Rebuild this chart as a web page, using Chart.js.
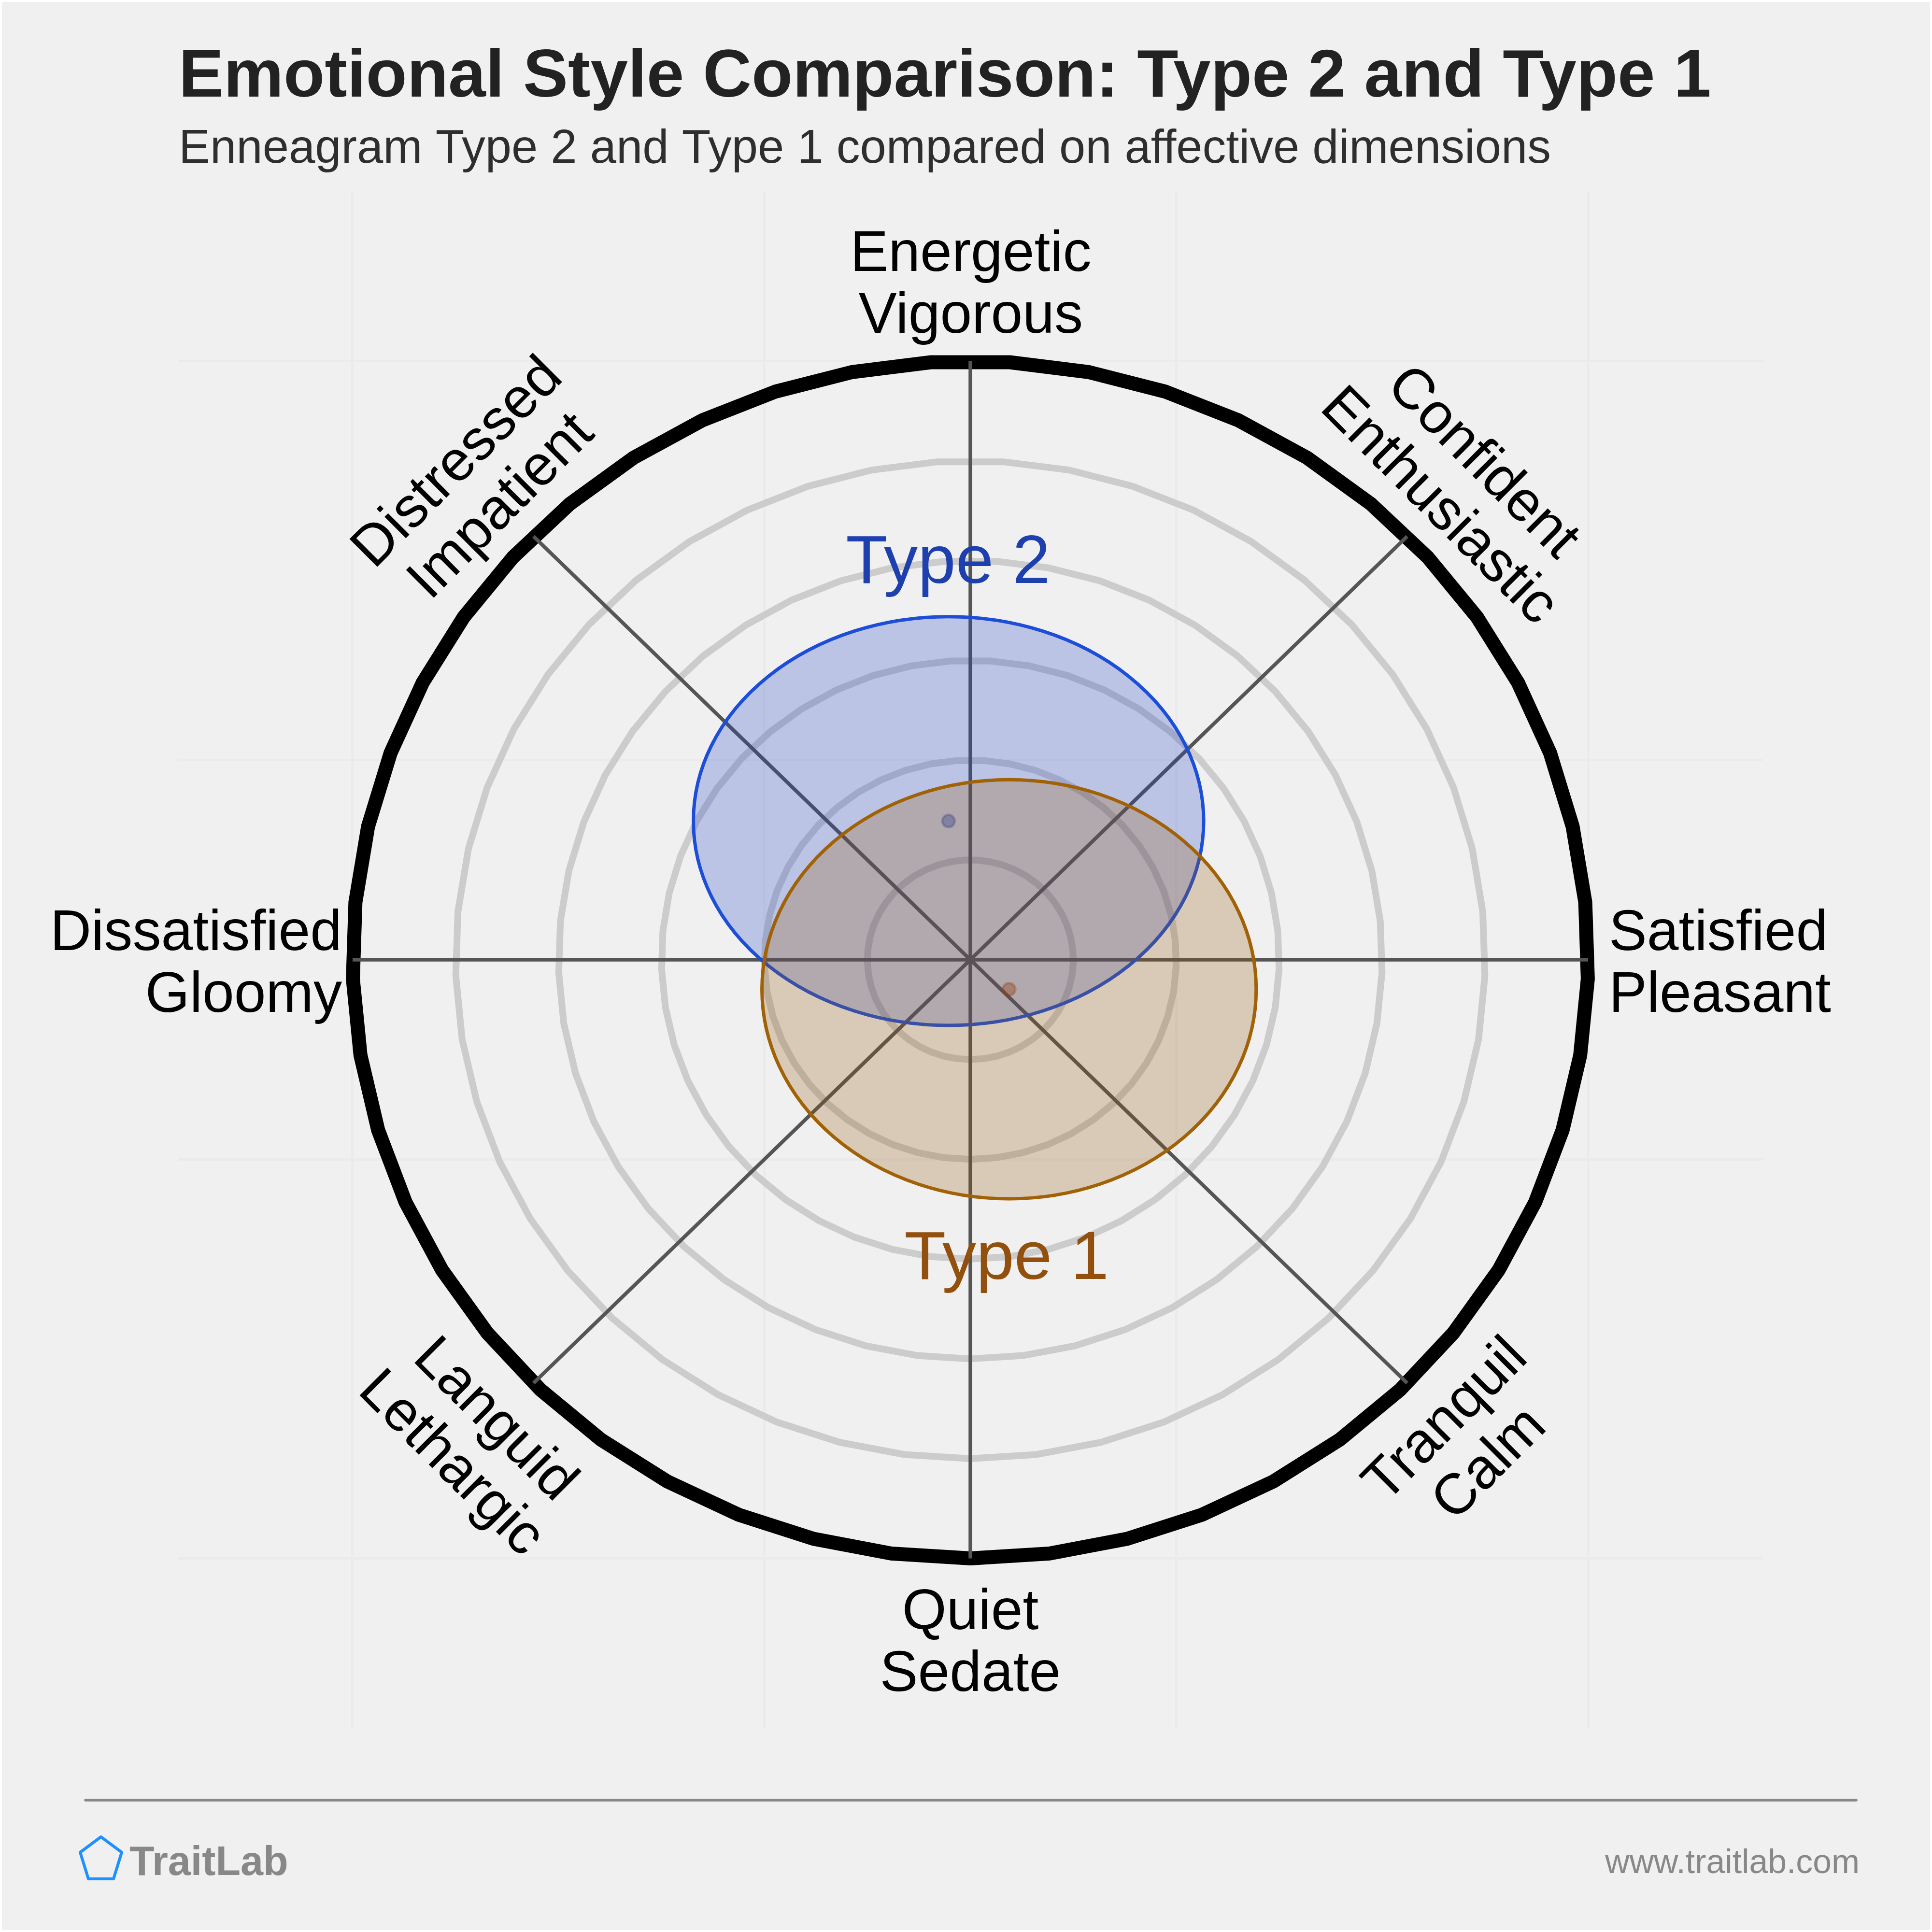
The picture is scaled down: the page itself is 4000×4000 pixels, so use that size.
<!DOCTYPE html>
<html>
<head>
<meta charset="utf-8">
<title>Emotional Style Comparison</title>
<script src="https://cdn.jsdelivr.net/npm/chart.js@4/dist/chart.umd.min.js"></script>
<style>
    html, body { margin: 0; padding: 0; background: #ffffff; }
    canvas { display: block; }
</style>
</head>
<body>
<canvas id="emotionChart" width="4000" height="4000"></canvas>
<script>
// Chart values
const typeNames = ['Type 2', 'Type 1'];
const centerX = [-0.106, 0.188];
const centerY = [0.695, -0.148];
const spreadX = [1.239, 1.2];
const spreadY = [1.024, 1.05];

const ringRadii = [0.5, 1, 1.5, 2, 2.5, 3];
const gridTicks = [-3, -1, 1, 3];
const spokeEndX = [0, 3, 3, 3, 0, -3, -3, -3];
const spokeEndY = [3, 3, 0, -3, -3, -3, 0, 3];
const diagonalShare = 0.7071;

const axisLabels = [
    ['Energetic', 'Vigorous'],
    ['Confident', 'Enthusiastic'],
    ['Satisfied', 'Pleasant'],
    ['Tranquil', 'Calm'],
    ['Quiet', 'Sedate'],
    ['Languid', 'Lethargic'],
    ['Dissatisfied', 'Gloomy'],
    ['Distressed', 'Impatient']
];

const titleText = 'Emotional Style Comparison: Type 2 and Type 1';
const subtitleText = 'Enneagram Type 2 and Type 1 compared on affective dimensions';

// Styling
const FONT = '"Liberation Sans", Arial, sans-serif';
const typeStroke = ['#1d4ed8', '#a16207'];
const typeFill = ['rgba(30, 64, 200, 0.25)', 'rgba(146, 88, 10, 0.25)'];
const typeDot = ['rgba(30, 64, 175, 0.4)', 'rgba(146, 64, 14, 0.4)'];
const typeDotEdge = ['rgba(30, 64, 175, 0.3)', 'rgba(146, 64, 14, 0.3)'];
const typeText = ['#1e40af', '#92500e'];
const typeLabelPos = [[1963, 1207], [2084, 2648]];

// x, y, rotation in degrees, alignment for every axis label
const labelPlacement = [
    [2010, 625, 0, 'center'],
    [3000, 1027, 45, 'center'],
    [3331, 2031, 0, 'left'],
    [3063, 3010, -45, 'center'],
    [2009, 3437, 0, 'center'],
    [955, 3009, 45, 'center'],
    [708, 2031, 0, 'right'],
    [1017, 1028, -45, 'center']
];

function spokePoints(i) {
    var share = (spokeEndX[i] !== 0 && spokeEndY[i] !== 0) ? diagonalShare : 1;
    return [{ x: 0, y: 0 }, { x: spokeEndX[i] * share, y: spokeEndY[i] * share }];
}

var datasets = [];
spokeEndX.forEach(function (v, i) {
    datasets.push({
        label: 'Spoke ' + (i + 1),
        data: spokePoints(i),
        showLine: true,
        borderColor: '#555555',
        borderWidth: 7.5,
        pointRadius: 0,
        order: 10
    });
});
typeNames.forEach(function (name, i) {
    datasets.push({
        label: name,
        typeIndex: i,
        data: [{ x: centerX[i], y: centerY[i] }],
        showLine: false,
        pointRadius: 13,
        pointBorderWidth: 5,
        backgroundColor: typeDot[i],
        pointBackgroundColor: typeDot[i],
        pointBorderColor: typeDotEdge[i],
        order: 5 - i
    });
});

const backgroundPlugin = {
    id: 'pageBackground',
    beforeDraw: function (chart) {
        var ctx = chart.ctx;
        ctx.save();
        ctx.fillStyle = '#ffffff';
        ctx.fillRect(0, 0, 4000, 4000);
        ctx.fillStyle = '#f0f0f0';
        ctx.fillRect(4, 4, 3992, 3992);
        ctx.restore();
    }
};

// Rings sit under the spokes, 49 sided like the reference
const ringsPlugin = {
    id: 'rings',
    beforeDatasetsDraw: function (chart) {
        var ctx = chart.ctx;
        var xs = chart.scales.x;
        var ys = chart.scales.y;
        ctx.save();
        ringRadii.forEach(function (r, i) {
            var last = i === ringRadii.length - 1;
            ctx.beginPath();
            for (var k = 0; k < 49; k++) {
                var a = Math.PI * 2 * k / 49;
                var px = xs.getPixelForValue(r * Math.sin(a));
                var py = ys.getPixelForValue(-r * Math.cos(a));
                if (k === 0) ctx.moveTo(px, py); else ctx.lineTo(px, py);
            }
            ctx.closePath();
            ctx.lineJoin = 'miter';
            ctx.strokeStyle = last ? '#000000' : '#cccccc';
            ctx.lineWidth = last ? 29 : 14;
            ctx.stroke();
        });
        ctx.restore();
    }
};

// Each type's ellipse goes in just before its centre dot
const ellipsePlugin = {
    id: 'typeEllipses',
    beforeDatasetDraw: function (chart, args) {
        var i = chart.data.datasets[args.index].typeIndex;
        if (i === undefined) return;
        var ctx = chart.ctx;
        var xs = chart.scales.x;
        var ys = chart.scales.y;
        var cx = xs.getPixelForValue(centerX[i]);
        var cy = ys.getPixelForValue(centerY[i]);
        var rx = Math.abs(xs.getPixelForValue(centerX[i] + spreadX[i]) - cx);
        var ry = Math.abs(ys.getPixelForValue(centerY[i] + spreadY[i]) - cy);
        ctx.save();
        ctx.beginPath();
        ctx.ellipse(cx, cy, rx, ry, 0, 0, Math.PI * 2);
        ctx.fillStyle = typeFill[i];
        ctx.fill();
        ctx.strokeStyle = typeStroke[i];
        ctx.lineWidth = 7;
        ctx.stroke();
        ctx.restore();
    }
};

const textPlugin = {
    id: 'pageText',
    afterDraw: function (chart) {
        var ctx = chart.ctx;
        ctx.save();
        ctx.textBaseline = 'alphabetic';

        ctx.textAlign = 'left';
        ctx.fillStyle = '#222222';
        ctx.font = 'bold 139.5px ' + FONT;
        ctx.fillText(titleText, 370, 200);
        ctx.fillStyle = '#2e2e2e';
        ctx.font = '97.6px ' + FONT;
        ctx.fillText(subtitleText, 370, 337);

        // two line axis labels around their middle point
        ctx.fillStyle = '#000000';
        ctx.font = '118.2px ' + FONT;
        axisLabels.forEach(function (lines, i) {
            var p = labelPlacement[i];
            ctx.save();
            ctx.translate(p[0], p[1]);
            ctx.rotate(p[2] * Math.PI / 180);
            ctx.textAlign = p[3];
            ctx.fillText(lines[0], 0, -64);
            ctx.fillText(lines[1], 0, 64);
            ctx.restore();
        });

        ctx.textAlign = 'center';
        ctx.font = '141px ' + FONT;
        typeNames.forEach(function (name, i) {
            ctx.fillStyle = typeText[i];
            ctx.fillText(name, typeLabelPos[i][0], typeLabelPos[i][1]);
        });

        // footer
        ctx.strokeStyle = '#888888';
        ctx.lineWidth = 5.5;
        ctx.lineCap = 'round';
        ctx.beginPath();
        ctx.moveTo(177, 3727);
        ctx.lineTo(3843, 3727);
        ctx.stroke();

        ctx.strokeStyle = '#1e90ff';
        ctx.lineWidth = 6;
        ctx.lineJoin = 'round';
        ctx.beginPath();
        ctx.moveTo(209, 3803);
        ctx.lineTo(252, 3835);
        ctx.lineTo(235, 3890);
        ctx.lineTo(183, 3890);
        ctx.lineTo(166, 3835);
        ctx.closePath();
        ctx.stroke();

        ctx.fillStyle = '#888888';
        ctx.textAlign = 'left';
        ctx.font = 'bold 84.5px ' + FONT;
        ctx.fillText('TraitLab', 268, 3882);
        ctx.textAlign = 'right';
        ctx.font = '69.7px ' + FONT;
        ctx.fillText('www.traitlab.com', 3850, 3878);
        ctx.restore();
    }
};

function axisOptions(limit) {
    return {
        type: 'linear',
        min: -limit,
        max: limit,
        afterBuildTicks: function (scale) {
            scale.ticks = gridTicks.map(function (v) { return { value: v }; });
        },
        ticks: { display: false },
        border: { display: false },
        grid: { color: '#ebebeb', lineWidth: 5, drawTicks: false }
    };
}

var ctx = document.getElementById('emotionChart').getContext('2d');
var chart = new Chart(ctx, {
    type: 'scatter',
    data: { datasets: datasets },
    plugins: [backgroundPlugin, ringsPlugin, ellipsePlugin, textPlugin],
    options: {
        responsive: false,
        animation: false,
        devicePixelRatio: 1,
        layout: { padding: { left: 368, right: 350, top: 395, bottom: 421 } },
        scales: { x: axisOptions(3.849), y: axisOptions(3.853) },
        plugins: { legend: { display: false }, title: { display: false }, tooltip: { enabled: false } }
    }
});
</script>
</body>
</html>
